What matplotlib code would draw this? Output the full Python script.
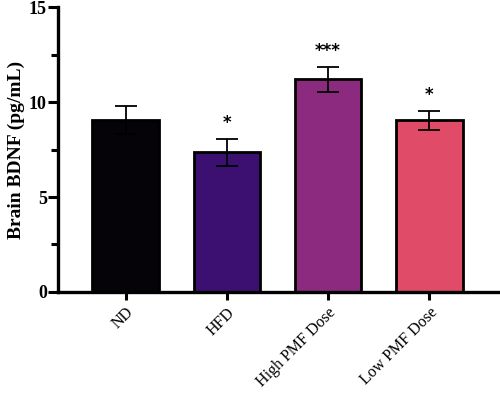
import numpy as np
import matplotlib.pyplot as plt
from matplotlib.ticker import MultipleLocator

groups = ['ND', 'HFD', 'High PMF Dose', 'Low PMF Dose']
means = [9.05, 7.35, 11.2, 9.05]
sems = [0.75, 0.7, 0.65, 0.5]
stars = ['', '*', '***', '*']
colors = ['#050308', '#3b1070', '#8c2a80', '#e04b68']

fig = plt.figure(figsize=(5, 3.94), dpi=100)
ax = fig.add_axes([0.116, 0.259, 0.88, 0.723])

x = np.arange(len(groups))
ax.bar(x, means, 0.66, color=colors, edgecolor='black', linewidth=2.0, zorder=2)
ax.errorbar(x, means, yerr=sems, fmt='none', ecolor='black', elinewidth=1.3,
            capsize=8, capthick=1.3, zorder=3)

for xi, m, s, st in zip(x, means, sems, stars):
    if st:
        ax.text(xi, m + s + 0.35, st, ha='center', va='bottom',
                fontsize=12, fontweight='bold', family='DejaVu Sans')

ax.set_xlim(-0.67, 3.68)
ax.set_ylim(0, 15)
ax.yaxis.set_major_locator(MultipleLocator(5))
ax.yaxis.set_minor_locator(MultipleLocator(2.5))

for s in ['top', 'right']:
    ax.spines[s].set_visible(False)
for s in ['left', 'bottom']:
    ax.spines[s].set_linewidth(2.4)

ax.tick_params(axis='y', which='major', length=7, width=2.2, labelsize=13, pad=1)
ax.tick_params(axis='y', which='minor', length=5, width=2.2)
ax.tick_params(axis='x', length=6, width=2.2, labelsize=11.5, pad=3)

ax.set_xticks(x)
ax.set_xticklabels(groups, rotation=45, ha='right', rotation_mode='anchor',
                   family='Liberation Serif')
for lab in ax.get_yticklabels():
    lab.set_family('Liberation Serif')
    lab.set_fontweight('bold')

ax.set_ylabel('Brain BDNF (pg/mL)', family='Liberation Serif',
              fontweight='bold', fontsize=14, labelpad=3)

fig.savefig('out.png', dpi=100)
